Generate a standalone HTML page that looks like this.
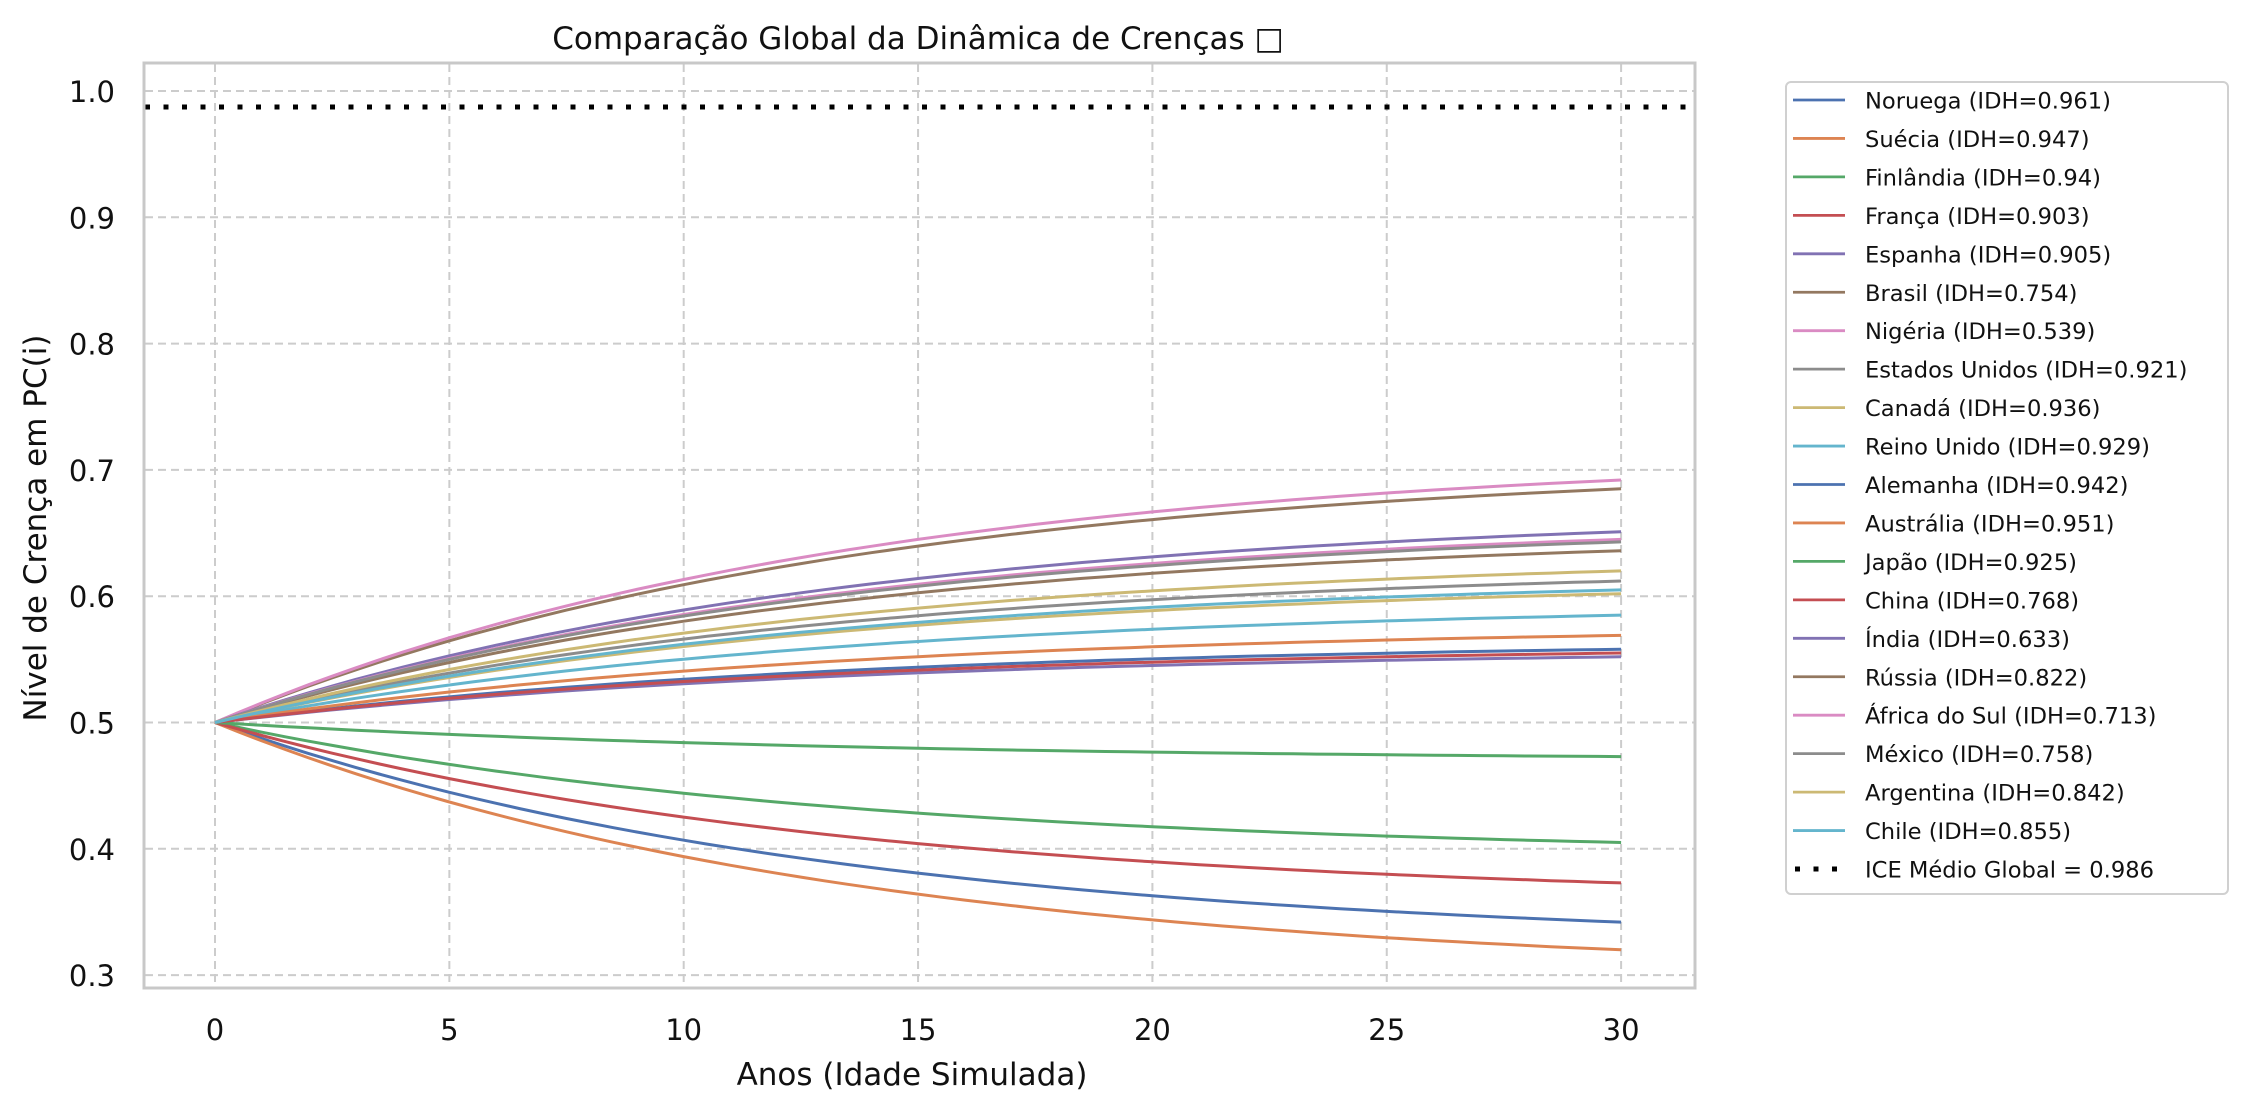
<!DOCTYPE html>
<html><head><meta charset="utf-8"><style>
html,body{margin:0;padding:0;background:#fff;}
svg{display:block;font-family:"DejaVu Sans","Liberation Sans",sans-serif;}
</style></head><body>
<svg id="s" width="2248" height="1112" viewBox="0 0 2248 1112" xmlns="http://www.w3.org/2000/svg">
<rect width="2248" height="1112" fill="#fff"/>
<g id="grid" stroke="#cccccc" stroke-width="2" stroke-dasharray="8,5" fill="none"></g>
<g id="lines" fill="none" stroke-width="3"></g>
<line x1="145" y1="107" x2="1694" y2="107" stroke="#000" stroke-width="5" stroke-dasharray="5,13.5"/>
<rect x="144" y="63" width="1551" height="925" fill="none" stroke="#c8c8c8" stroke-width="3"/>
<g id="ticks" font-size="29" fill="#111"></g>
<text x="918" y="49" font-size="31" text-anchor="middle" fill="#111">Comparação Global da Dinâmica de Crenças □</text>
<text x="912" y="1085" font-size="31" text-anchor="middle" fill="#111">Anos (Idade Simulada)</text>
<text transform="translate(46,528) rotate(-90)" font-size="31" text-anchor="middle" fill="#111">Nível de Crença em PC(i)</text>
<rect x="1786" y="82" width="442" height="812" rx="5" fill="#fff" stroke="#d0d0d0" stroke-width="2"/>
<g id="leg" font-size="22.6" fill="#111"></g>
</svg>
<script>
var NS="http://www.w3.org/2000/svg";
function el(p,t,a,txt){var e=document.createElementNS(NS,t);for(var k in a)e.setAttribute(k,a[k]);if(txt!==undefined)e.textContent=txt;document.getElementById(p).appendChild(e);return e;}
var X=function(t){return 215+t*46.87;};
var Y=function(v){return 91+(1-v)*1263;};
for(var i=0;i<=7;i++){var v=0.3+i*0.1,y=Y(v);el('grid','line',{x1:145,x2:1694,y1:y,y2:y});el('ticks','text',{x:115,y:y+11,'text-anchor':'end'},v.toFixed(1));}
for(var t=0;t<=30;t+=5){var x=X(t);el('grid','line',{x1:x,x2:x,y1:64,y2:987});el('ticks','text',{x:x,y:1040,'text-anchor':'middle'},''+t);}
var C={b:'#4c72b0',o:'#dd8452',g:'#55a868',r:'#c44e52',p:'#8172b3',br:'#937860',pk:'#da8bc3',gr:'#8c8c8c',ol:'#ccb974',c:'#64b5cd'};
var S=[['Noruega (IDH=0.961)','b',0.342],['Suécia (IDH=0.947)','o',0.320],['Finlândia (IDH=0.94)','g',0.405],['França (IDH=0.903)','r',0.373],['Espanha (IDH=0.905)','p',0.552],['Brasil (IDH=0.754)','br',0.685],['Nigéria (IDH=0.539)','pk',0.692],['Estados Unidos (IDH=0.921)','gr',0.612],['Canadá (IDH=0.936)','ol',0.602],['Reino Unido (IDH=0.929)','c',0.585],['Alemanha (IDH=0.942)','b',0.558],['Austrália (IDH=0.951)','o',0.569],['Japão (IDH=0.925)','g',0.473],['China (IDH=0.768)','r',0.555],['Índia (IDH=0.633)','p',0.651],['Rússia (IDH=0.822)','br',0.636],['África do Sul (IDH=0.713)','pk',0.645],['México (IDH=0.758)','gr',0.643],['Argentina (IDH=0.842)','ol',0.620],['Chile (IDH=0.855)','c',0.605]];
var k=0.075,f=1-Math.exp(-30*k);
S.forEach(function(s,i){
 var A=0.5+(s[2]-0.5)/f,d='';
 for(var t=0;t<=30;t+=0.5){var v=0.5+(A-0.5)*(1-Math.exp(-k*t));d+=(t?'L':'M')+X(t).toFixed(1)+','+Y(v).toFixed(1);}
 el('lines','path',{d:d,stroke:C[s[1]]});
 var y=100+i*38.45;
 el('leg','line',{x1:1793,x2:1845,y1:y,y2:y,stroke:C[s[1]],'stroke-width':2.8});
 el('leg','text',{x:1865,y:y+8.5},s[0]);
});
var y=100+20*38.45;
el('leg','line',{x1:1795,x2:1845,y1:y,y2:y,stroke:'#000','stroke-width':5,'stroke-dasharray':'5,13.5'});
el('leg','text',{x:1865,y:y+8.5},'ICE Médio Global = 0.986');
</script>
</body></html>
